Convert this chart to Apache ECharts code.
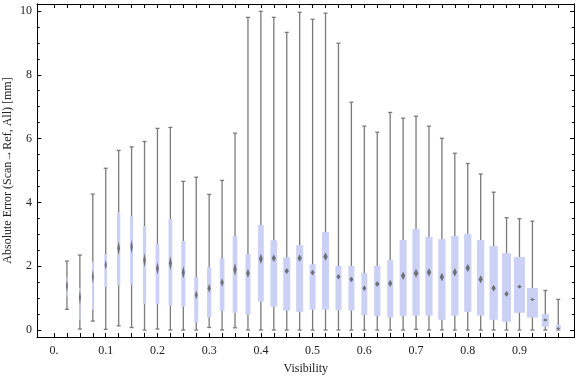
<!DOCTYPE html>
<html lang="en">
<head>
<meta charset="UTF-8">
<title>Absolute Error vs Visibility</title>
<script src="https://cdn.jsdelivr.net/npm/echarts@6/dist/echarts.min.js"></script>
<style>
  html, body { margin: 0; padding: 0; background: #fff; }
  #chart { width: 576px; height: 377px; }
</style>
</head>
<body>
<div id="chart"></div>
<script>
// box positions on the Visibility axis
var visibility = [0.025, 0.05, 0.075, 0.1, 0.125, 0.15, 0.175, 0.2, 0.225, 0.25,
  0.275, 0.3, 0.325, 0.35, 0.375, 0.4, 0.425, 0.45, 0.475, 0.5,
  0.525, 0.55, 0.575, 0.6, 0.625, 0.65, 0.675, 0.7, 0.725, 0.75,
  0.775, 0.8, 0.825, 0.85, 0.875, 0.9, 0.925, 0.95, 0.975];
// five-number summaries [mm]
var whiskerLow = [0.65, 0.03, 0.28, 0.02, 0.13, 0.08, 0.00, 0.03, 0.00, 0.00,
  0.00, 0.08, 0.00, 0.07, 0.00, 0.00, 0.00, 0.00, 0.00, 0.00,
  0.00, 0.00, 0.00, 0.00, 0.00, 0.00, 0.00, 0.02, 0.00, 0.00,
  0.00, 0.00, 0.00, 0.00, 0.00, 0.00, 0.00, 0.00, 0.00];
var q1 = [1.04, 0.31, 0.63, 1.35, 1.40, 1.42, 0.82, 0.82, 0.76, 0.73,
  0.23, 0.39, 0.61, 0.54, 0.48, 0.89, 0.73, 0.61, 0.57, 0.64,
  0.64, 0.62, 0.61, 0.47, 0.44, 0.39, 0.44, 0.45, 0.45, 0.32,
  0.45, 0.57, 0.45, 0.32, 0.26, 0.54, 0.39, 0.10, 0.01];
var median = [1.38, 1.02, 1.67, 2.04, 2.56, 2.61, 2.19, 1.93, 2.09, 1.80,
  1.10, 1.31, 1.49, 1.90, 1.78, 2.23, 2.25, 1.85, 2.25, 1.80,
  2.30, 1.67, 1.59, 1.31, 1.44, 1.46, 1.70, 1.78, 1.81, 1.66,
  1.81, 1.94, 1.59, 1.31, 1.13, 1.36, 0.96, 0.31, 0.05];
var q3 = [1.65, 1.33, 2.14, 2.38, 3.70, 3.57, 3.26, 2.70, 3.48, 2.79,
  1.66, 1.97, 2.25, 2.94, 2.38, 3.29, 2.81, 2.28, 2.66, 2.06,
  3.07, 2.01, 2.01, 1.79, 2.01, 2.19, 2.82, 3.17, 2.92, 2.85,
  2.95, 3.01, 2.82, 2.63, 2.41, 2.29, 1.32, 0.50, 0.16];
var whiskerHigh = [2.16, 2.35, 4.26, 5.07, 5.63, 5.74, 5.91, 6.32, 6.35, 4.66,
  4.79, 4.25, 4.69, 6.17, 9.80, 9.99, 9.80, 9.33, 9.96, 9.74,
  9.93, 8.99, 7.14, 6.39, 6.20, 6.82, 6.64, 6.70, 6.39, 6.01,
  5.54, 5.22, 4.89, 4.32, 3.52, 3.49, 3.41, 1.24, 0.96];
// relative box width (grows with the number of samples in the bin)
var boxWeight = [0.10, 0.10, 0.13, 0.21, 0.25, 0.23, 0.25, 0.29, 0.29, 0.31,
  0.31, 0.33, 0.36, 0.36, 0.39, 0.44, 0.52, 0.54, 0.54, 0.46,
  0.54, 0.46, 0.46, 0.46, 0.49, 0.46, 0.54, 0.56, 0.56, 0.56,
  0.56, 0.56, 0.56, 0.64, 0.70, 0.85, 0.85, 0.56, 0.39];

// ticks
var xTickValues = [0, 0.025, 0.05, 0.075, 0.1, 0.125, 0.15, 0.175, 0.2, 0.225,
  0.25, 0.275, 0.3, 0.325, 0.35, 0.375, 0.4, 0.425, 0.45, 0.475,
  0.5, 0.525, 0.55, 0.575, 0.6, 0.625, 0.65, 0.675, 0.7, 0.725,
  0.75, 0.775, 0.8, 0.825, 0.85, 0.875, 0.9, 0.925, 0.95, 0.975];
var xLabelValues = [0, 0.1, 0.2, 0.3, 0.4, 0.5, 0.6, 0.7, 0.8, 0.9];
var yMajorValues = [0, 2, 4, 6, 8, 10];
var yMinorValues = [0, 0.5, 1, 1.5, 2, 2.5, 3, 3.5, 4, 4.5, 5, 5.5, 6, 6.5,
  7, 7.5, 8, 8.5, 9, 9.5, 10];

var X_MIN = -0.0329, X_MAX = 1.0064;
var Y_MIN = -0.219, Y_MAX = 10.219;
var SLOT = 0.025;

var font = 'Liberation Serif';
var textColor = '#222';

var chart = echarts.init(document.getElementById('chart'));

function yAxisDef(pos, len, ticks, withLabels) {
  return {
    type: 'value', position: pos, min: Y_MIN, max: Y_MAX,
    axisLine: { show: true, onZero: false, lineStyle: { color: '#000', width: 1 } },
    axisTick: { show: true, inside: true, length: len, customValues: ticks,
      lineStyle: { color: '#000', width: 1 } },
    axisLabel: withLabels ? {
      show: true, customValues: yMajorValues, margin: 5,
      fontFamily: font, fontSize: 12, color: textColor
    } : { show: false },
    splitLine: { show: false },
    name: withLabels ? 'Absolute Error (Scan\u2192Ref, All) [mm]' : '',
    nameLocation: 'middle', nameGap: 23, nameRotate: 90, nameMoveOverlap: false,
    nameTextStyle: { fontFamily: font, fontSize: 12, color: textColor }
  };
}

var option = {
  animation: false,
  backgroundColor: '#fff',
  grid: { left: 37, right: 1.5, top: 4, bottom: 40, containLabel: false, outerBoundsMode: 'none' },
  xAxis: [
    {
      type: 'value', position: 'bottom', min: X_MIN, max: X_MAX,
      axisLine: { show: true, onZero: false, lineStyle: { color: '#000', width: 1 } },
      axisTick: { show: true, inside: true, length: 4, customValues: xTickValues,
        lineStyle: { color: '#000', width: 1 } },
      axisLabel: {
        customValues: xLabelValues, margin: 8,
        fontFamily: font, fontSize: 12, color: textColor,
        formatter: function (v) { return v === 0 ? '0.' : v.toFixed(1); }
      },
      splitLine: { show: false },
      name: 'Visibility', nameLocation: 'middle', nameGap: 26, nameMoveOverlap: false,
      nameTextStyle: { fontFamily: font, fontSize: 12, color: textColor }
    },
    {
      type: 'value', position: 'top', min: X_MIN, max: X_MAX,
      axisLine: { show: true, onZero: false, lineStyle: { color: '#000', width: 1 } },
      axisTick: { show: true, inside: true, length: 4, customValues: xTickValues,
        lineStyle: { color: '#000', width: 1 } },
      axisLabel: { show: false },
      splitLine: { show: false }
    }
  ],
  yAxis: [
    yAxisDef('left', 4.3, yMajorValues, true),
    yAxisDef('left', 2.7, yMinorValues, false),
    yAxisDef('right', 4.3, yMajorValues, false),
    yAxisDef('right', 2.7, yMinorValues, false)
  ],
  series: [{
    type: 'custom',
    xAxisIndex: 0,
    yAxisIndex: 0,
    data: visibility.map(function (v, i) {
      return [v, whiskerLow[i], q1[i], median[i], q3[i], whiskerHigh[i], boxWeight[i]];
    }),
    encode: { x: 0, y: [1, 2, 3, 4, 5] },
    renderItem: function (params, api) {
      var x = api.value(0);
      var pLow = api.coord([x, api.value(1)]);
      var pQ1 = api.coord([x, api.value(2)]);
      var pMed = api.coord([x, api.value(3)]);
      var pQ3 = api.coord([x, api.value(4)]);
      var pHigh = api.coord([x, api.value(5)]);
      var slotPx = api.size([SLOT, 0])[0];
      var unitPx = api.size([0, 1])[1];
      var w = api.value(6) * slotPx;
      var cx = pMed[0];
      var capW = 2;
      var grey = '#7a7a7a';
      var iqr = api.value(4) - api.value(2);
      var halfH = Math.max(1.5, Math.min(7, 0.38 * iqr / w * unitPx));
      var halfW = Math.max(1, Math.min(2.2, w * 0.28 + 0.4));
      return {
        type: 'group',
        children: [
          { type: 'line', shape: { x1: cx, y1: pHigh[1], x2: cx, y2: pLow[1] },
            style: { stroke: grey, lineWidth: 1.3 } },
          { type: 'line', shape: { x1: cx - capW, y1: pHigh[1], x2: cx + capW, y2: pHigh[1] },
            style: { stroke: grey, lineWidth: 1.3 } },
          { type: 'line', shape: { x1: cx - capW, y1: pLow[1], x2: cx + capW, y2: pLow[1] },
            style: { stroke: grey, lineWidth: 1.3 } },
          { type: 'rect', shape: { x: cx - w / 2, y: pQ3[1], width: w, height: pQ1[1] - pQ3[1] },
            style: { fill: '#cad1f5' } },
          { type: 'polygon', shape: { points: [
              [cx, pMed[1] - halfH], [cx + halfW, pMed[1]],
              [cx, pMed[1] + halfH], [cx - halfW, pMed[1]]] },
            style: { fill: 'rgba(95,95,95,0.85)' } }
        ]
      };
    }
  }]
};

chart.setOption(option);
</script>
</body>
</html>
